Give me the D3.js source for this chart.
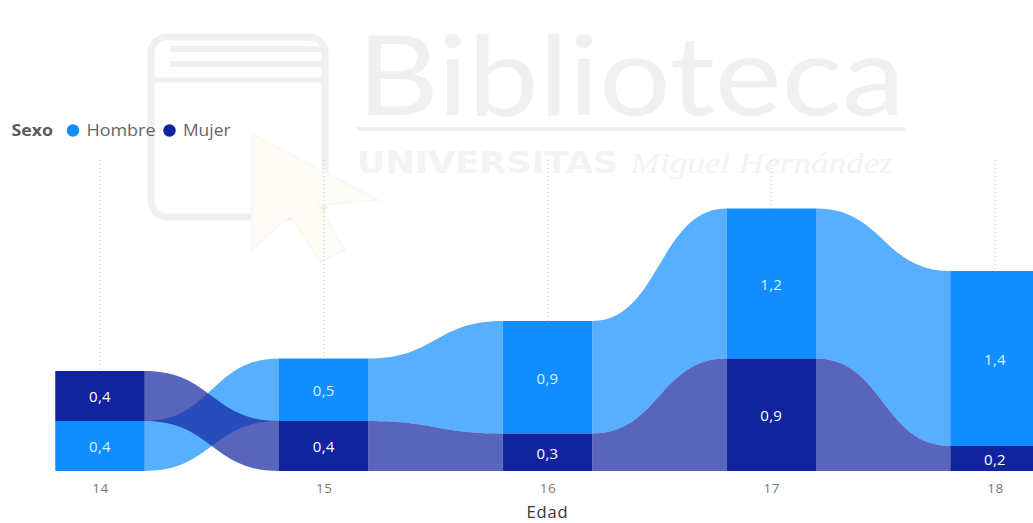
<!DOCTYPE html>
<html>
<head>
<meta charset="utf-8">
<script src="https://cdn.jsdelivr.net/npm/d3@7"></script>
<style>
  html, body { margin: 0; padding: 0; background: #ffffff; }
  svg { display: block; font-family: "Open Sans", "Noto Sans", sans-serif; }
</style>
</head>
<body>
<svg id="chart" width="1033" height="523"></svg>
<script>
// Ages on the x axis and values per sex
const categories = ["14", "15", "16", "17", "18"];
const hombre = [0.4, 0.5, 0.9, 1.2, 1.4];
const mujer  = [0.4, 0.4, 0.3, 0.9, 0.2];
const seriesNames = ["Hombre", "Mujer"];
const legendTitle = "Sexo";
const axisTitle = "Edad";

const barColors = { Hombre: "#118DFF", Mujer: "#12239E" };
const labelColors = { Hombre: "#dcf0ff", Mujer: "#ffffff" };

const svg = d3.select("#chart");

// ---- Library watermark (background) ----
const wm = svg.append("g").attr("class", "watermark");
const wmGray = "#f0f0f0";
// book outline
wm.append("rect")
  .attr("x", 151).attr("y", 37).attr("width", 174).attr("height", 180)
  .attr("rx", 16)
  .attr("fill", "none").attr("stroke", wmGray).attr("stroke-width", 7);
[49, 64].forEach(yy => wm.append("line")
  .attr("x1", 170).attr("x2", 326).attr("y1", yy).attr("y2", yy)
  .attr("stroke", wmGray).attr("stroke-width", 6));
wm.append("line").attr("x1", 151).attr("x2", 326).attr("y1", 80).attr("y2", 80)
  .attr("stroke", wmGray).attr("stroke-width", 5);
// cursor arrow
wm.append("path")
  .attr("d", "M252,134 L252,250 L290,215 L320,262 L345,250 L318,205 L378,200 Z")
  .attr("fill", "#fdfcf6").attr("stroke", "#faf8ef").attr("stroke-width", 2);
wm.append("text")
  .attr("x", 357).attr("y", 115)
  .attr("textLength", 548).attr("lengthAdjust", "spacingAndGlyphs")
  .attr("font-family", "Lato, 'Liberation Sans', sans-serif")
  .attr("font-size", 110)
  .attr("fill", wmGray)
  .text("Biblioteca");
wm.append("line").attr("x1", 357).attr("x2", 905).attr("y1", 129).attr("y2", 129)
  .attr("stroke", wmGray).attr("stroke-width", 4);
const sub = wm.append("text")
  .attr("x", 357).attr("y", 173)
  .attr("textLength", 536).attr("lengthAdjust", "spacingAndGlyphs")
  .attr("font-size", 30)
  .attr("fill", "#f3f3f3");
sub.append("tspan").attr("font-weight", "bold").attr("font-family", "'DejaVu Sans', sans-serif").text("UNIVERSITAS ");
sub.append("tspan").attr("font-style", "italic").attr("font-family", "'Liberation Serif', serif").text("Miguel Hernández");

// ---- Scales ----
const x = d3.scalePoint().domain(categories).range([100, 995]);
const barW = x.step() * 0.4;

const rows = categories.map((c, i) => {
  const vals = [
    { key: "Hombre", value: hombre[i] },
    { key: "Mujer", value: mujer[i] }
  ];
  // ribbon ranking: the larger value sits on top
  const ordered = vals.slice().sort((a, b) => a.value - b.value);
  let acc = 0;
  const pos = {};
  ordered.forEach(v => { pos[v.key] = { y0: acc, y1: acc + v.value, value: v.value }; acc += v.value; });
  return { cat: c, pos, total: acc };
});

const y = d3.scaleLinear()
  .domain([0, d3.max(rows, r => r.total)])
  .range([471, 208.5]);

// ---- Gridlines ----
const grid = svg.append("g");
grid.selectAll("line").data(categories).join("line")
  .attr("x1", d => x(d)).attr("x2", d => x(d))
  .attr("y1", 160).attr("y2", 471)
  .attr("stroke", "#c8c8c8").attr("stroke-width", 1)
  .attr("stroke-dasharray", "1,3");

// ---- Ribbons ----
function ribbonPath(a, b, key) {
  const xa = x(a.cat) + barW / 2, xb = x(b.cat) - barW / 2;
  const xm = (xa + xb) / 2;
  const pa = a.pos[key], pb = b.pos[key];
  const ta = y(pa.y1), tb = y(pb.y1), ba = y(pa.y0), bb = y(pb.y0);
  return `M${xa},${ta} C${xm},${ta} ${xm},${tb} ${xb},${tb} L${xb},${bb} C${xm},${bb} ${xm},${ba} ${xa},${ba} Z`;
}
const ribbons = svg.append("g");
seriesNames.forEach(key => {
  ribbons.append("g").selectAll("path")
    .data(d3.pairs(rows))
    .join("path")
    .attr("d", ([a, b]) => ribbonPath(a, b, key))
    .attr("fill", barColors[key])
    .attr("fill-opacity", 0.7);
});

// ---- Bars ----
const bars = svg.append("g");
seriesNames.forEach(key => {
  bars.append("g").selectAll("rect")
    .data(rows)
    .join("rect")
    .attr("x", d => x(d.cat) - barW / 2)
    .attr("width", barW)
    .attr("y", d => y(d.pos[key].y1))
    .attr("height", d => y(d.pos[key].y0) - y(d.pos[key].y1))
    .attr("fill", barColors[key]);
});

// ---- Data labels ----
const fmt = v => d3.format(".1f")(v).replace(".", ",");
const labels = svg.append("g");
seriesNames.forEach(key => {
  labels.append("g").selectAll("text")
    .data(rows)
    .join("text")
    .attr("x", d => x(d.cat))
    .attr("y", d => (y(d.pos[key].y0) + y(d.pos[key].y1)) / 2)
    .attr("dy", "0.42em")
    .attr("text-anchor", "middle")
    .attr("font-size", 15)
    .attr("letter-spacing", 0.3)
    .attr("fill", labelColors[key])
    .text(d => fmt(d.pos[key].value));
});

// ---- X axis ----
const xAxis = svg.append("g")
  .attr("transform", "translate(0,471)")
  .call(d3.axisBottom(x).tickSize(0).tickPadding(12));
xAxis.select(".domain").remove();
xAxis.selectAll("text")
  .attr("font-family", "'Open Sans', 'Noto Sans', sans-serif")
  .attr("font-size", 13.5)
  .attr("letter-spacing", 0.5)
  .attr("fill", "#777777");

svg.append("text")
  .attr("x", x("16")).attr("y", 517.5)
  .attr("text-anchor", "middle")
  .attr("font-size", 16.5)
  .attr("letter-spacing", 0.9)
  .attr("fill", "#333333")
  .text(axisTitle);

// ---- Legend ----
const legend = svg.append("g").attr("font-size", 15.5);
legend.append("text")
  .attr("x", 11.5).attr("y", 136)
  .attr("textLength", 41.5).attr("lengthAdjust", "spacingAndGlyphs")
  .attr("font-weight", "bold").attr("fill", "#5a5a5a")
  .text(legendTitle);
const legendItems = [
  { key: "Hombre", cx: 73, len: 69 },
  { key: "Mujer", cx: 169.5, len: 47.5 }
];
legendItems.forEach(it => {
  legend.append("circle")
    .attr("cx", it.cx).attr("cy", 130.5).attr("r", 6.2)
    .attr("fill", barColors[it.key]);
  legend.append("text")
    .attr("x", it.cx + 13.5).attr("y", 136)
    .attr("textLength", it.len).attr("lengthAdjust", "spacingAndGlyphs")
    .attr("fill", "#666666")
    .text(it.key);
});
</script>
</body>
</html>
